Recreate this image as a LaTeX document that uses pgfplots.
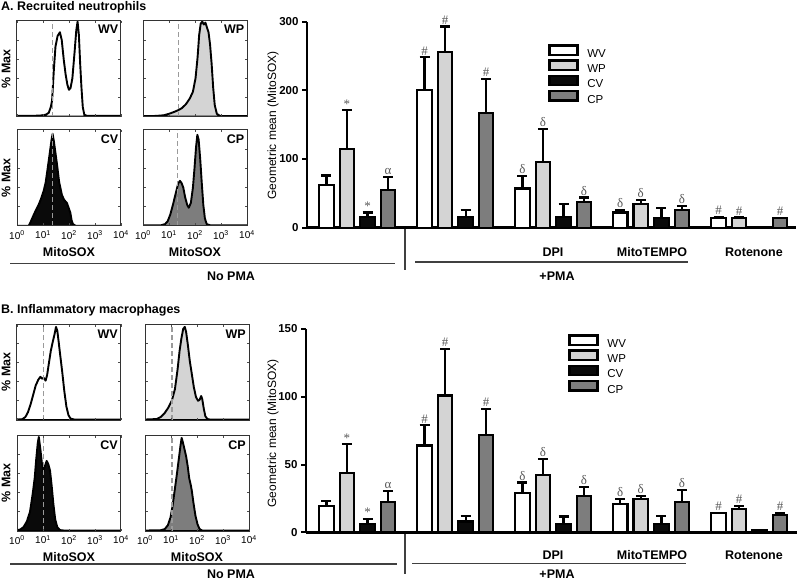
\documentclass[border=0pt]{standalone}
\usepackage{pgfplots}
\pgfplotsset{compat=1.18}
\usepackage{fontspec}
\setmainfont{Liberation Sans}
\newfontfamily\symfont{Liberation Serif}
\definecolor{wpc}{HTML}{D4D4D4}
\definecolor{cpc}{HTML}{7D7D7D}
\definecolor{cvc}{HTML}{0A0A0A}
\definecolor{gatec}{HTML}{9A9A9A}
\newcommand{\hs}{\#}
\newcommand{\fz}[1]{\fontsize{#1}{#1}\selectfont}
\tikzset{hlab/.style={anchor=north east, font=\bfseries\fz{12.5}, inner sep=0pt}}
\pgfplotsset{
 hist/.style={anchor=south west, x=26pt, y=0.96pt, xmin=0, xmax=4, ymin=0, ymax=100,
   axis on top, axis line style={black!80, line width=1pt},
   xtick={0,1,2,3,4}, ytick={20,40,60,80}, yticklabels={},
   major tick length=2.5pt, tick align=inside, tick style={black!70, line width=0.7pt},
   xticklabel style={font=\fz{10}, yshift=-1pt}},
 histtop/.style={hist, xticklabels={}},
 histbot/.style={hist, xticklabels={10\textsuperscript{0},10\textsuperscript{1},10\textsuperscript{2},10\textsuperscript{3},10\textsuperscript{4}}},
 hline/.style={draw=black, line width=1.9pt, line join=round},
 gate/.style={gatec, line width=1.2pt, dash pattern=on 5pt off 3pt},
 barchart/.style={anchor=south west, x=1pt, axis x line*=bottom, axis y line*=left,
   axis line style={line width=2.7pt}, xtick=\empty, ytick align=outside, major tick length=5pt,
   tick style={line width=2pt, black}, yticklabel style={font=\bfseries\fz{11.5}},
   /pgf/number format/assume math mode=true, clip=false,
   legend style={draw=none, fill=none, inner sep=0pt, row sep=0.5pt, font=\fz{11.5}, anchor=north west,
     nodes={inner sep=0pt}},
   legend cell align=left},
 mybar/.style={ybar, bar width=14.5pt, bar shift=0pt, draw=black, line width=2.2pt, fill=#1,
   legend image code/.code={\draw[draw=black, line width=2.4pt, fill=#1] (0pt,-0.6pt) rectangle (28pt,8.8pt); \path[draw=none, fill=none] (38pt,4pt) circle (0pt);},
   /pgfplots/error bars/y dir=plus, /pgfplots/error bars/y explicit,
   /pgfplots/error bars/error mark=|,
   /pgfplots/error bars/error bar style={line width=2.2pt, black},
   /pgfplots/error bars/error mark options={line width=2.2pt, mark size=5pt, black}},
 annot/.style={draw=none, mark=none, nodes near coords, point meta=explicit symbolic,
   nodes near coords style={anchor=south, font=\symfont\fz{13}, text=black!65, inner sep=2pt}},
}
\begin{document}
\begin{tikzpicture}
\useasboundingbox (0pt,0pt) rectangle (800pt,582pt);

% ---------------- Panel titles ----------------
\node[anchor=west, font=\bfseries\fz{12.5}, inner sep=0pt] at (1pt,574.5pt) {A. Recruited neutrophils};
\node[anchor=west, font=\bfseries\fz{12.5}, inner sep=0pt] at (1pt,271.3pt) {B. Inflammatory macrophages};

% ---------------- Panel A histograms ----------------
\begin{axis}[histtop, at={(17pt,465.3pt)}]
\addplot[hline, fill=white] coordinates {(0,0.8) (0.5,0.8) (0.9,1.2) (1.1,2) (1.22,4) (1.3,10) (1.35,17) (1.42,50) (1.48,73) (1.56,84) (1.65,88) (1.72,80) (1.8,59) (1.87,44) (1.94,33) (2.0,28) (2.06,30) (2.13,40) (2.22,69) (2.28,90) (2.33,99) (2.38,85) (2.43,55) (2.48,30) (2.53,10) (2.59,2) (2.7,0.8) (4,0.8)} \closedcycle;
\addplot[gate] coordinates {(1.38,0) (1.38,100)};
\node[hlab] at (rel axis cs:0.975,0.955) {WV};
\end{axis}
\begin{axis}[histtop, at={(143pt,465.3pt)}]
\addplot[hline, fill=wpc] coordinates {(0,0.6) (0.5,0.8) (0.8,1.5) (1.0,3) (1.2,5) (1.37,7) (1.5,9) (1.65,13) (1.8,19) (1.92,26) (2.02,40) (2.1,62) (2.16,85) (2.22,97) (2.28,99) (2.34,96) (2.4,98) (2.46,93) (2.52,88) (2.58,75) (2.64,55) (2.7,30) (2.76,12) (2.84,3) (2.95,1) (3.1,0.6) (4,0.6)} \closedcycle;
\addplot[gate] coordinates {(1.37,0) (1.37,100)};
\node[hlab] at (rel axis cs:0.975,0.955) {WP};
\end{axis}
\begin{axis}[histbot, at={(17pt,356pt)}]
\addplot[hline, fill=cvc] coordinates {(0,0.3) (0.45,0.3) (0.52,4) (0.6,9) (0.7,15) (0.83,22) (0.92,28) (1.02,36) (1.1,45) (1.2,64) (1.27,78) (1.33,90) (1.37,96) (1.42,88) (1.48,76) (1.54,64) (1.62,46) (1.73,32) (1.82,27) (1.92,24) (2.05,14) (2.1,6) (2.15,2) (2.25,0.3) (4,0.3)} \closedcycle;
\addplot[gate] coordinates {(1.37,0) (1.37,100)};
\node[hlab] at (rel axis cs:0.975,0.955) {CV};
\end{axis}
\begin{axis}[histbot, at={(143pt,356pt)}]
\addplot[hline, fill=cpc] coordinates {(0,0.6) (0.7,0.8) (0.85,2) (0.95,5) (1.05,12) (1.15,22) (1.25,33) (1.35,44) (1.42,47) (1.48,45) (1.55,40) (1.62,30) (1.7,22) (1.76,19) (1.84,24) (1.92,40) (1.98,60) (2.04,82) (2.09,95) (2.14,90) (2.2,70) (2.26,45) (2.32,22) (2.38,8) (2.45,2) (2.6,0.6) (4,0.6)} \closedcycle;
\addplot[gate] coordinates {(1.33,0) (1.33,100)};
\node[hlab] at (rel axis cs:0.975,0.955) {CP};
\end{axis}

% ---------------- Panel B histograms ----------------
\begin{axis}[histtop, at={(17pt,162pt)}]
\addplot[hline, fill=white] coordinates {(0,0.5) (0.2,0.8) (0.32,3) (0.42,8) (0.52,16) (0.62,26) (0.72,36) (0.82,42) (0.9,45) (0.96,43) (1.02,44) (1.1,41) (1.16,47) (1.22,58) (1.3,72) (1.38,82) (1.45,90) (1.5,97) (1.55,93) (1.6,82) (1.66,68) (1.74,50) (1.82,30) (1.9,14) (1.98,5) (2.06,1.5) (2.2,0.5) (4,0.5)} \closedcycle;
\addplot[gate] coordinates {(1.03,0) (1.03,100)};
\node[hlab] at (rel axis cs:0.97,0.94) {WV};
\end{axis}
\begin{axis}[histtop, at={(145pt,162pt)}]
\addplot[hline, fill=wpc] coordinates {(0,0.5) (0.45,1) (0.6,3) (0.75,7) (0.9,13) (1.03,20) (1.15,32) (1.25,52) (1.33,72) (1.4,85) (1.47,95) (1.53,97) (1.58,92) (1.65,78) (1.72,62) (1.8,48) (1.88,34) (1.96,24) (2.04,20) (2.1,21) (2.16,25) (2.2,22) (2.26,12) (2.32,4) (2.4,1) (2.5,0.5) (4,0.5)} \closedcycle;
\addplot[gate] coordinates {(1.04,0) (1.04,100)};
\node[hlab] at (rel axis cs:0.97,0.94) {WP};
\end{axis}
\begin{axis}[histbot, at={(17pt,51pt)}]
\addplot[hline, fill=cvc] coordinates {(0,0.8) (0.12,1.5) (0.25,4) (0.38,10) (0.5,20) (0.6,38) (0.68,55) (0.74,75) (0.8,92) (0.84,98) (0.9,85) (0.96,70) (1.02,62) (1.08,68) (1.14,73) (1.2,70) (1.27,63) (1.33,48) (1.4,28) (1.47,12) (1.55,4) (1.65,1) (1.8,0.5) (4,0.5)} \closedcycle;
\addplot[gate] coordinates {(1.03,0) (1.03,100)};
\node[hlab] at (rel axis cs:0.97,0.94) {CV};
\end{axis}
\begin{axis}[histbot, at={(145pt,51pt)}]
\addplot[hline, fill=cpc] coordinates {(0,0.5) (0.6,0.8) (0.76,2) (0.88,6) (0.98,14) (1.06,26) (1.14,42) (1.22,58) (1.3,75) (1.36,88) (1.41,97) (1.46,92) (1.52,85) (1.58,78) (1.64,68) (1.7,55) (1.76,48) (1.8,42) (1.86,30) (1.94,16) (2.02,7) (2.1,2) (2.2,0.5) (4,0.5)} \closedcycle;
\addplot[gate] coordinates {(1.04,0) (1.04,100)};
\node[hlab] at (rel axis cs:0.97,0.94) {CP};
\end{axis}

% ---------------- histogram labels ----------------
\foreach \yy in {513.3,404,210,99} {
  \node[rotate=90, font=\bfseries\fz{12.5}, inner sep=0pt] at (6pt,\yy pt) {\% Max};
}
\node[font=\bfseries\fz{12.5}, inner sep=0pt] at (69pt,329.7pt) {MitoSOX};
\node[font=\bfseries\fz{12.5}, inner sep=0pt] at (195pt,329.7pt) {MitoSOX};
\node[font=\bfseries\fz{12.5}, inner sep=0pt] at (69pt,25.3pt) {MitoSOX};
\node[font=\bfseries\fz{12.5}, inner sep=0pt] at (197pt,25.3pt) {MitoSOX};

% ---------------- group annotations ----------------
\draw[line width=1.3pt, black!75] (10pt,318.7pt) -- (395pt,318.7pt);
\draw[line width=1.3pt, black!75] (415pt,320pt) -- (688pt,320pt);
\draw[line width=1.1pt, black!75] (405pt,354pt) -- (405pt,312pt);
\node[font=\bfseries\fz{12.5}, inner sep=0pt] at (231pt,305.3pt) {No PMA};
\node[font=\bfseries\fz{12.5}, inner sep=0pt] at (557pt,306pt) {+PMA};
\node[font=\bfseries\fz{12.5}, inner sep=0pt] at (553pt,329.7pt) {DPI};
\node[font=\bfseries\fz{12.5}, inner sep=0pt] at (652pt,329.7pt) {MitoTEMPO};
\node[font=\bfseries\fz{12.5}, inner sep=0pt] at (754pt,329.7pt) {Rotenone};

\draw[line width=1.3pt, black!75] (10pt,18pt) -- (397pt,18pt);
\draw[line width=1.3pt, black!75] (412pt,18.5pt) -- (686pt,18.5pt);
\draw[line width=1.1pt, black!75] (405pt,49pt) -- (405pt,8pt);
\node[font=\bfseries\fz{12.5}, inner sep=0pt] at (231pt,7.5pt) {No PMA};
\node[font=\bfseries\fz{12.5}, inner sep=0pt] at (557pt,7.5pt) {+PMA};
\node[font=\bfseries\fz{12.5}, inner sep=0pt] at (553pt,27pt) {DPI};
\node[font=\bfseries\fz{12.5}, inner sep=0pt] at (652pt,27pt) {MitoTEMPO};
\node[font=\bfseries\fz{12.5}, inner sep=0pt] at (754pt,27pt) {Rotenone};

\node[rotate=90, font=\fz{12}, inner sep=0pt] at (273pt,456.5pt) {Geometric mean (MitoSOX)};
\node[rotate=90, font=\fz{12}, inner sep=0pt] at (273pt,148.4pt) {Geometric mean (MitoSOX)};

% ---------------- Panel A bar chart ----------------
\begin{axis}[barchart, at={(307pt,354.3pt)}, y=0.6867pt, xmin=307, xmax=796, ymin=0, ymax=300,
  ytick={0,100,200,300}, legend style={at={(0.4928,0.8917)}}]
\addplot[mybar=white] table[x=x,y=y,y error plus=e] {
x y e
326.4 62 14
424.5 201 47
522.4 57 18
620.3 22 4
718.5 14.5 1.5
};
\addplot[mybar=wpc] table[x=x,y=y,y error plus=e] {
x y e
346.9 115 56
445.0 256 37
542.9 96 48
640.8 34.5 5.5
739.0 14.5 0.8
};
\addplot[mybar=cvc] table[x=x,y=y,y error plus=e] {
x y e
367.5 15 7
465.6 15 11
563.5 16 19
661.4 13.6 15.4
759.6 1.5 0
};
\addplot[mybar=cpc] table[x=x,y=y,y error plus=e] {
x y e
388.0 55 19
486.1 166.5 50.5
584.0 37 7
681.9 26 5.5
780.1 13.6 0.5
};
\addplot[annot] table[x=x,y=y,meta=l] {
x y l
346.9 171 *
367.5 22 *
388.0 74 α
424.5 248 \hs
445.0 293 \hs
486.1 217 \hs
522.4 75 δ
542.9 144 δ
584.0 44 δ
620.3 26 δ
640.8 40 δ
681.9 31.5 δ
718.5 16 \hs
739.0 15 \hs
780.1 14 \hs
};
\legend{WV,WP,CV,CP}
\end{axis}

% ---------------- Panel B bar chart ----------------
\begin{axis}[barchart, at={(306pt,49.7pt)}, y=1.3553pt, xmin=306, xmax=797, ymin=0, ymax=150,
  ytick={0,50,100,150}, legend style={at={(0.5336,0.9754)}}]
\addplot[mybar=white] table[x=x,y=y,y error plus=e] {
x y e
326.4 19.7 3.3
424.5 64 15
522.4 28.8 7.9
620.3 20.7 3.7
718.5 14 0.5
};
\addplot[mybar=wpc] table[x=x,y=y,y error plus=e] {
x y e
346.9 44 21
445.0 101 34.5
542.9 42.4 11.8
640.8 24.4 2.6
739.0 17 2.5
};
\addplot[mybar=cvc] table[x=x,y=y,y error plus=e] {
x y e
367.5 6.2 3.7
465.6 7.9 4.1
563.5 6.2 5.4
661.4 6.2 5.8
759.6 1.7 0
};
\addplot[mybar=cpc] table[x=x,y=y,y error plus=e] {
x y e
388.0 22.4 8.1
486.1 71.7 19.3
584.0 26.8 6.9
681.9 22.2 8.8
780.1 12.8 1.7
};
\addplot[annot] table[x=x,y=y,meta=l] {
x y l
346.9 65 *
367.5 9.9 *
388.0 30.5 α
424.5 79 \hs
445.0 135.5 \hs
486.1 91 \hs
522.4 36.7 δ
542.9 54.2 δ
584.0 33.7 δ
620.3 24.4 δ
640.8 27 δ
681.9 31 δ
718.5 14.5 \hs
739.0 19.5 \hs
780.1 14.5 \hs
};
\legend{WV,WP,CV,CP}
\end{axis}
\end{tikzpicture}
\end{document}
